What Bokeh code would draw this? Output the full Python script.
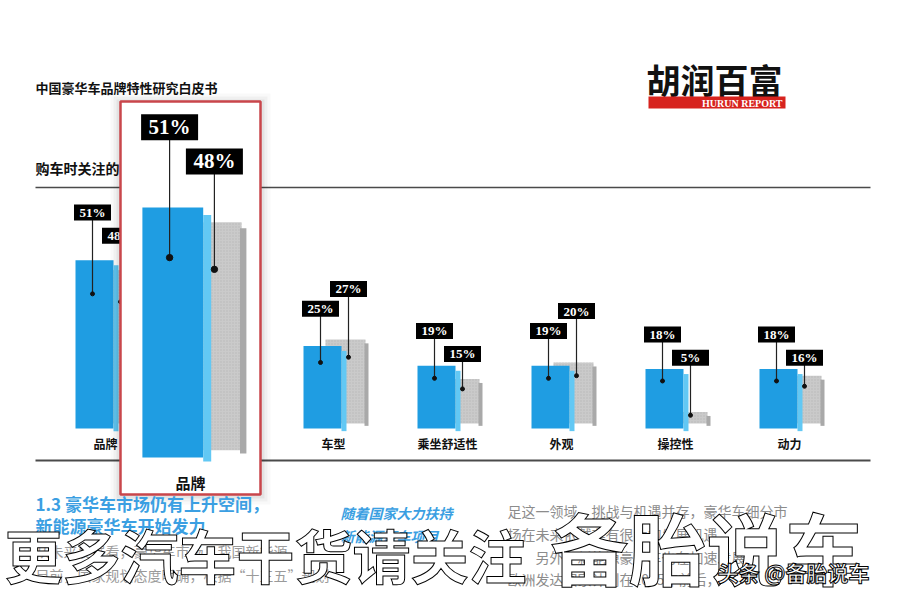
from bokeh.plotting import figure
from bokeh.models import ColumnDataSource, Range1d, CDSView, IndexFilter
from bokeh.transform import dodge
from bokeh.core.properties import value
from bokeh.embed import file_html
from bokeh.resources import INLINE

# ---------------- data ----------------
categories = ["品牌", "车型", "乘坐舒适性", "外观", "操控性", "动力"]
share_blue = [51, 25, 19, 19, 18, 18]
share_gray = [48, 27, 15, 20, 5, 16]
hidden_slot = " "          # one category is hidden behind the magnifier box

# ---------------- figure (page in pixel coordinates) ----------------
W, H = 900, 600
SANS = value("Noto Sans CJK SC")
SERIF = value("Liberation Serif")

p = figure(width=W, height=H, output_backend="svg", toolbar_location=None,
           x_range=Range1d(0, W), y_range=Range1d(H, 0),
           x_axis_location=None, y_axis_location=None, min_border=0,
           outline_line_color=None, background_fill_color="white",
           border_fill_color="white")
p.grid.visible = False

# chart scales (main chart and magnified inset); slots are category positions
slots = [categories[0], hidden_slot] + categories[1:]
PXM, PYM, BASEM, MIDM = 114.0, 3.3, 428.0, 447.0
PXZ, PYZ, BASEZ, MIDZ = 86.7, 4.9, 457.0, 450.0
mid = len(slots) / 2
p.extra_x_ranges = {
    "cat": Range1d(mid - MIDM / PXM, mid + (W - MIDM) / PXM),
    "zcat": Range1d(mid - MIDZ / PXZ, mid + (W - MIDZ) / PXZ),
}
p.extra_y_ranges = {
    "pct": Range1d(-(H - BASEM) / PYM, BASEM / PYM),
    "zpct": Range1d(-(H - BASEZ) / PYZ, BASEZ / PYZ),
}

blab = [1.12 * b + 8.3 for b in share_blue]
glab = [lb + (6 if g > b else -7) for lb, b, g in zip(blab, share_blue, share_gray)]
src = ColumnDataSource(dict(
    cat=categories, pos=[slots.index(c) + 0.5 for c in categories],
    blue=share_blue, gray=share_gray,
    blab=blab, glab=glab,
    bdot=[0.8 * b for b in share_blue], gdot=[0.8 * g for g in share_gray],
    btxt=[f"{b}%" for b in share_blue], gtxt=[f"{g}%" for g in share_gray]))


def ptext(x, y, s, size, color="#111", font=SANS, style="bold", align="left"):
    p.text(x=[x], y=[y], text=[s], text_font=font, text_font_style=style,
           text_font_size=f"{size}px", text_color=color, text_align=align,
           text_baseline="middle")


# ---------------- page header ----------------
ptext(35, 87, "中国豪华车品牌特性研究白皮书", 13)
ptext(646, 79, "胡润百富", 34)
p.quad(left=[648], right=[785], top=[96], bottom=[108], fill_color="#d7231e", line_color=None)
ptext(782, 102.5, "HURUN REPORT", 10, color="white", font=SERIF, align="right")
ptext(35, 167, "购车时关注的", 14)
p.segment(x0=[35, 35], x1=[870, 870], y0=[187, 460], y1=[187, 460],
          line_color="#4a4a4a", line_width=[1.5, 2])


# ---------------- bars ----------------
def draw_chart(xr, yr, kx, s, view, lab_shift, font_px, box_w, box_h):
    def X(off_px):
        return dodge("pos", off_px * s / kx)

    common = dict(source=src, view=view, x_range_name=xr, y_range_name=yr)
    # gray slab (behind), stippled
    p.vbar(x=X(12), width=40 * s / kx, top="gray", bottom=1.5,
           fill_color="#cacaca", line_color=None, hatch_pattern=".",
           hatch_color="#a8a8a8", hatch_alpha=0.6, hatch_scale=3, **common)
    p.vbar(x=X(33), width=4 * s / kx, top=dodge("gray", -1.2), bottom=0.8,
           fill_color="#a9a9a9", line_color=None, **common)
    # blue slab
    p.vbar(x=X(-11), width=38 * s / kx, top="blue", bottom=0,
           fill_color="#1f9de2", line_color=None, **common)
    p.vbar(x=X(10.5), width=5 * s / kx, top=dodge("blue", -1.5), bottom=-0.8,
           fill_color="#62c8f4", line_color=None, **common)
    # callouts
    for off, lab, dot, txt in [(-13, "blab", "bdot", "btxt"), (15, "glab", "gdot", "gtxt")]:
        ly = dodge(lab, lab_shift)
        p.segment(x0=X(off), x1=X(off), y0=ly, y1=dot, line_color="#222",
                  line_width=1.2, **common)
        p.scatter(x=X(off), y=dot, size=4 * s, color="#111", **common)
        p.rect(x=X(off), y=ly, width=box_w, height=box_h, width_units="screen",
               height_units="screen", fill_color="black", line_color=None, **common)
        p.text(x=X(off), y=ly, text=txt, text_font=SERIF, text_font_style="bold",
               text_font_size=f"{font_px}px", text_color="white", text_align="center",
               text_baseline="middle", **common)


draw_chart("cat", "pct", PXM, 1.0, CDSView(), 0, 13, 37, 16)
p.text(x="pos", y=-15 / PYM, text="cat", source=src, x_range_name="cat",
       y_range_name="pct", text_font=SANS, text_font_style="bold",
       text_font_size="12px", text_align="center", text_baseline="middle",
       text_color="#111")

# ---------------- magnifier inset ----------------
for pad, a in [(10, 0.025), (7, 0.035), (4, 0.05)]:
    p.quad(left=[120 - pad], right=[260 + pad], top=[101 - pad + 2], bottom=[494 + pad],
           fill_color="black", fill_alpha=a, line_color=None)
p.quad(left=[120], right=[260], top=[101], bottom=[494], fill_color="white",
       line_color="#c9464b", line_width=2.5)
zview = CDSView(filter=IndexFilter([0]))
draw_chart("zcat", "zpct", PXZ, 1.6, zview, 2, 21, 57, 26)
p.text(x="pos", y=-25 / PYZ, text="cat", source=src, view=zview, x_range_name="zcat",
       y_range_name="zpct", text_font=SANS, text_font_style="bold",
       text_font_size="15px", text_align="center", text_baseline="middle",
       text_color="#111")

# ---------------- lower page text ----------------
BLUE = "#3b9fe2"
ptext(35, 503, "1.3 豪华车市场仍有上升空间，", 17, color=BLUE)
ptext(35, 525, "新能源豪华车开始发力", 17, color=BLUE)
ptext(35, 550, "从未来发展看，豪华车市场，我国新能源", 14, color="#9a9a9a", style="normal")
ptext(35, 574, "目前，国家规划态度明确，根据“十三五”规划", 14, color="#9a9a9a", style="normal")
ptext(340, 512, "随着国家大力扶持", 14, color=BLUE, style="bold italic")
ptext(340, 535, "新能源豪车项目", 14, color=BLUE, style="bold italic")
ptext(507, 510, "足这一领域，挑战与机遇并存，豪华车细分市", 14, color="#8c8c8c", style="normal")
ptext(507, 533, "场在未来依然存有很大的发展机遇。", 14, color="#8c8c8c", style="normal")
ptext(535, 556, "另外，新能源豪华车也在加速发展，", 14, color="#8c8c8c", style="normal")
ptext(507, 578, "欧洲发达国家计划在2025年前后，", 14, color="#8c8c8c", style="normal")


# ---------------- overlay watermark ----------------
def outlined(x, y, s, size):
    kw = dict(text_font=SANS, text_font_style="bold", text_font_size=f"{size}px",
              text_color="white", text_align="left", text_baseline="middle")
    try:
        p.text(x=[x], y=[y], text=[s], text_outline_color="black", **kw)
    except Exception:
        for dx, dy in [(-2, 0), (2, 0), (0, -2), (0, 2), (-2, -2), (2, 2), (-2, 2), (2, -2)]:
            p.text(x=[x], y=[y], text=[s], x_offset=dx, y_offset=dy,
                   **{**kw, "text_color": "black"})
        p.text(x=[x], y=[y], text=[s], **kw)


outlined(4, 553, "更多汽车干货请关注", 58)
outlined(550, 545, "备胎说车", 78)
outlined(717, 571, "头条 @备胎说车", 21)

open("out.html", "w").write(file_html(p, INLINE))
